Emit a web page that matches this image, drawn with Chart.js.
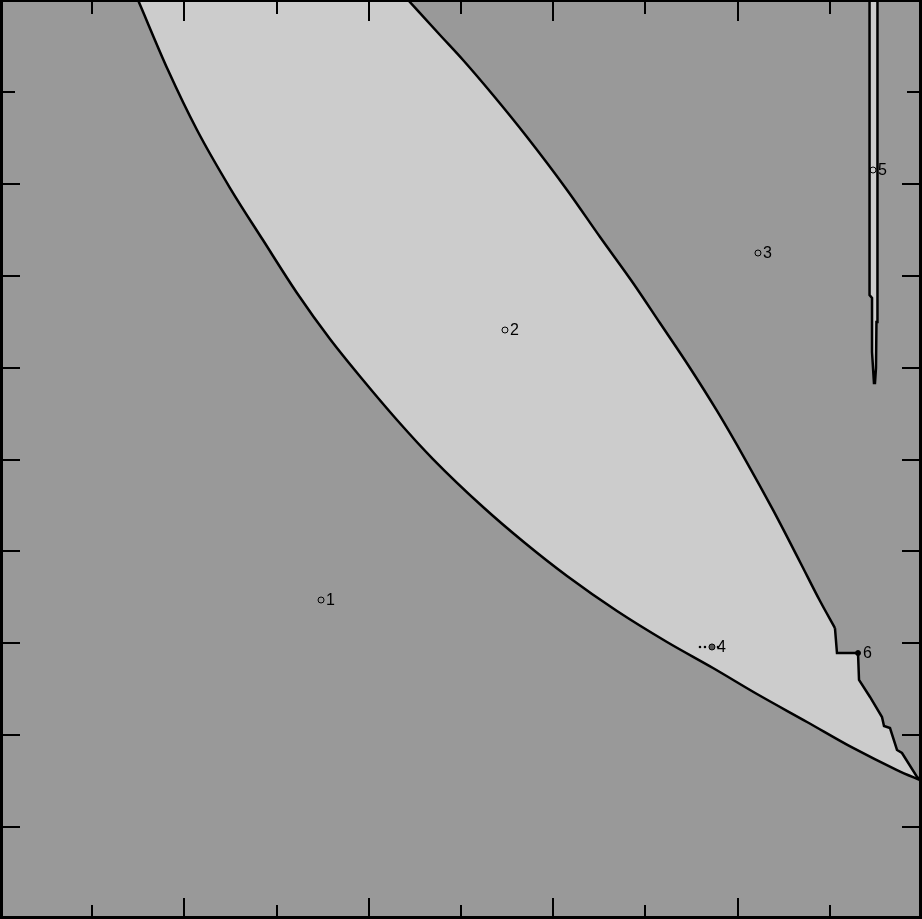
<!DOCTYPE html>
<html>
<head>
<meta charset="utf-8">
<script src="https://cdn.jsdelivr.net/npm/chart.js@4.4.1/dist/chart.umd.min.js"></script>
<style>
html,body{margin:0;padding:0;background:#999999;}
canvas{display:block;}
</style>
</head>
<body>
<canvas id="c" width="922" height="919"></canvas>
<script>
// Lower boundary of light region (top -> bottom right)
const lowerX = [1.497,1.822,2.137,2.495,2.852,3.221,3.579,3.937,4.306,4.696,5.239,5.694,6.150,6.692,7.234,7.733,8.210,8.753,9.252,9.729,10.0];
const lowerY = [10.0,9.238,8.585,7.954,7.388,6.812,6.311,5.865,5.430,5.005,4.483,4.091,3.732,3.351,3.014,2.731,2.448,2.144,1.861,1.621,1.502];
// Upper boundary, smooth part (top -> down)
const upperX = [4.425,4.772,5.022,5.347,5.716,6.150,6.508,6.866,7.158,7.484,7.777,8.080,8.384,8.677,8.894,9.056];
const upperY = [10.0,9.619,9.347,8.966,8.509,7.933,7.421,6.921,6.485,5.996,5.528,5.005,4.451,3.885,3.460,3.166];
// Upper boundary, stepped part near point 6 (continues to the corner)
const stepX = [9.056,9.078,9.306,9.317,9.436,9.566,9.588,9.653,9.729,9.783,9.946,10.0];
const stepY = [3.166,2.894,2.894,2.601,2.416,2.198,2.100,2.078,1.839,1.806,1.545,1.502];
// Thin vertical strip near the right edge
const stripX = [9.431,9.431,9.458,9.458,9.479,9.490,9.501,9.506,9.517,9.517];
const stripY = [10.0,6.790,6.757,6.170,5.832,5.832,5.996,6.496,6.496,10.0];
// Labelled points
const pointLabels = ["1","2","3","4","5","6"];
const pointX = [3.482,5.477,8.221,7.722,9.469,9.306];
const pointY = [3.471,6.409,7.247,2.960,8.150,2.894];
// Tiny dots beside point 4
const dotX = [7.592,7.646,7.787];
const dotY = [2.960,2.960,2.960];
// Tick values
const xTicks = [1,2,3,4,5,6,7,8,9];
const yTicks = [1,2,3,4,5,6,7,8,9];

const toPts = (xs, ys) => xs.map((x, i) => ({x: x, y: ys[i]}));
const upperAll = toPts(upperX, upperY).concat(toPts(stepX, stepY).slice(1));
const regionPts = toPts(lowerX, lowerY).concat(upperAll.slice().reverse());

const bgPlugin = {
  id: 'bg',
  beforeDraw(chart) {
    const ctx = chart.ctx;
    ctx.save();
    ctx.fillStyle = '#999999';
    ctx.fillRect(0, 0, chart.width, chart.height);
    ctx.restore();
  }
};

const decoPlugin = {
  id: 'deco',
  afterDraw(chart) {
    const ctx = chart.ctx;
    const xs = chart.scales.x, ys = chart.scales.y;
    const W = chart.width, H = chart.height;
    ctx.save();
    ctx.strokeStyle = '#000';
    ctx.lineWidth = 2;
    xTicks.forEach(v => {
      const px = Math.round(xs.getPixelForValue(v));
      const len = (v % 2 === 0) ? 21 : 14;
      ctx.beginPath();
      ctx.moveTo(px, H); ctx.lineTo(px, H - len);
      ctx.moveTo(px, 0); ctx.lineTo(px, len);
      ctx.stroke();
    });
    yTicks.forEach(v => {
      const py = Math.round(ys.getPixelForValue(v));
      const len = (v === 9) ? 15 : 20;
      ctx.beginPath();
      ctx.moveTo(0, py); ctx.lineTo(len, py);
      ctx.moveTo(W, py); ctx.lineTo(W - len, py);
      ctx.stroke();
    });
    // frame
    ctx.fillStyle = '#000';
    ctx.fillRect(0, 0, 3, H);
    ctx.fillRect(0, H - 3, W, 3);
    ctx.fillRect(0, 0, W, 2);
    ctx.fillRect(W - 3, 0, 3, H);
    // labels
    ctx.font = '16px "Liberation Sans", Arial, sans-serif';
    ctx.textBaseline = 'middle';
    ctx.textAlign = 'left';
    pointLabels.forEach((t, i) => {
      const px = xs.getPixelForValue(pointX[i]);
      const py = ys.getPixelForValue(pointY[i]);
      ctx.fillText(t, px + 5, py + 1);
    });
    ctx.restore();
  }
};

const strokeDs = (pts, mono) => ({
  data: pts, showLine: true, fill: false, borderColor: '#000', borderWidth: 2.5,
  pointRadius: 0, tension: mono ? 0.4 : 0,
  cubicInterpolationMode: mono ? 'monotone' : 'default', order: 1
});

new Chart(document.getElementById('c'), {
  type: 'scatter',
  data: {
    datasets: [
      {
        data: regionPts, showLine: true, fill: 'shape',
        backgroundColor: '#cccccc', borderColor: 'rgba(0,0,0,0)', borderWidth: 0,
        pointRadius: 0, tension: 0, order: 3
      },
      {
        data: toPts(stripX, stripY), showLine: true, fill: 'shape',
        backgroundColor: '#cccccc', borderColor: '#000000', borderWidth: 2.5,
        pointRadius: 0, tension: 0, order: 2
      },
      strokeDs(toPts(lowerX, lowerY), true),
      strokeDs(toPts(upperX, upperY), true),
      strokeDs(toPts(stepX, stepY), false),
      {
        data: toPts(dotX, dotY), showLine: false, pointRadius: 1.3,
        backgroundColor: '#000', borderColor: '#000', borderWidth: 0, order: 0
      },
      {
        data: toPts(pointX, pointY), showLine: false,
        pointRadius: [3,3,3,3,3,2.5],
        pointBackgroundColor: ['rgba(0,0,0,0)','rgba(0,0,0,0)','rgba(0,0,0,0)','#555555','rgba(0,0,0,0)','#000000'],
        pointBorderColor: '#000', pointBorderWidth: 1, order: 0
      }
    ]
  },
  options: {
    responsive: false,
    animation: false,
    devicePixelRatio: 1,
    layout: { padding: 0, autoPadding: false },
    plugins: { legend: { display: false }, tooltip: { enabled: false } },
    scales: {
      x: { type: 'linear', min: 0, max: 10, display: false },
      y: { type: 'linear', min: 0, max: 10, display: false }
    }
  },
  plugins: [bgPlugin, decoPlugin]
});
</script>
</body>
</html>
